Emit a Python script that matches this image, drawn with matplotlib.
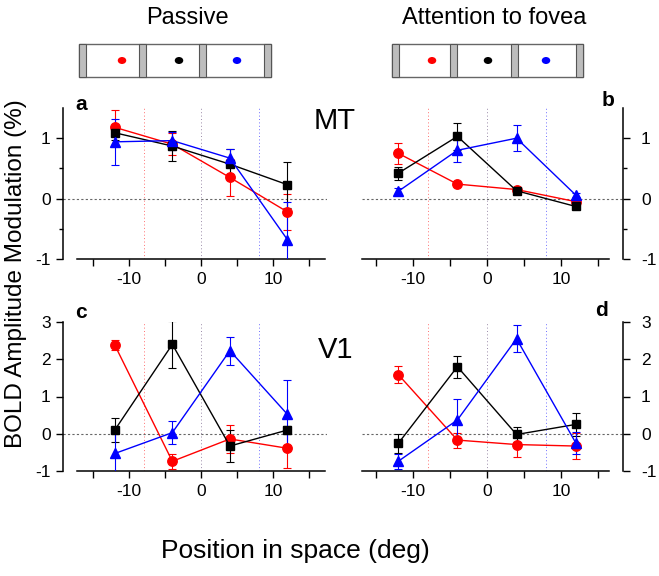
import numpy as np
import matplotlib
matplotlib.use("Agg")
import matplotlib.pyplot as plt
from matplotlib.patches import Rectangle, Ellipse

plt.rcParams['font.family'] = ['Liberation Sans', 'DejaVu Sans']

# stimulus positions (deg)
positions = [-12, -4, 4, 12]

# panel a - MT passive
a_red = [1.18, 0.90, 0.35, -0.22]
a_red_err = [0.29, 0.18, 0.30, 0.30]
a_black = [1.09, 0.87, 0.57, 0.23]
a_black_err = [0.12, 0.25, 0.25, 0.38]
a_blue = [0.94, 0.96, 0.67, -0.68]
a_blue_err = [0.38, 0.15, 0.15, 0.62]

# panel b - MT attention to fovea
b_red = [0.75, 0.24, 0.15, -0.05]
b_red_err = [0.17, 0.03, 0.05, 0.05]
b_black = [0.42, 1.03, 0.13, -0.13]
b_black_err = [0.11, 0.22, 0.05, 0.05]
b_blue = [0.12, 0.80, 1.00, 0.06]
b_blue_err = [0.06, 0.19, 0.22, 0.03]

# panel c - V1 passive
c_red = [2.38, -0.74, -0.14, -0.39]
c_red_err = [0.13, 0.20, 0.37, 0.52]
c_black = [0.10, 2.40, -0.33, 0.10]
c_black_err = [0.33, 0.63, 0.42, 0.10]
c_blue = [-0.53, 0.03, 2.23, 0.52]
c_blue_err = [0.55, 0.30, 0.38, 0.93]

# panel d - V1 attention to fovea
d_red = [1.59, -0.17, -0.29, -0.33]
d_red_err = [0.23, 0.20, 0.34, 0.36]
d_black = [-0.26, 1.80, -0.02, 0.25]
d_black_err = [0.25, 0.30, 0.20, 0.32]
d_blue = [-0.74, 0.37, 2.55, -0.24]
d_blue_err = [0.20, 0.55, 0.36, 0.30]

W, H = 659, 576
fig = plt.figure(figsize=(W / 100, H / 100), dpi=100)


def pix_axes(left, right, top, bottom):
    return fig.add_axes([left / W, (H - bottom) / H, (right - left) / W, (bottom - top) / H])


def draw_panel(ax, red, red_err, black, black_err, blue, blue_err, ylim, yticks, side, xlim, xbounds, minor=None):
    for xv, c in [(-8, '#ff7070'), (0, '#9a8aa8'), (8, '#7070ff')]:
        ax.axvline(xv, color=c, lw=0.7, ls=(0, (1, 2.5)), zorder=1)
    ax.axhline(0, color='#666666', lw=0.8, ls=(0, (2, 2)), zorder=1)

    series = [(red, red_err, '#ff0000', 'o', 6.8),
              (black, black_err, '#000000', 's', 6.0),
              (blue, blue_err, '#0000ff', '^', 7.5)]
    for vals, errs, col, mk, ms in series:
        ax.errorbar(positions, vals, yerr=errs, color=col, marker=mk, ms=ms, lw=1.0,
                    elinewidth=0.8, capsize=2.8, capthick=0.8, mec=col, zorder=3, clip_on=True)

    ax.set_xlim(*xlim)
    ax.set_ylim(*ylim)
    ax.set_xticks([-15, -10, -5, 0, 5, 10, 15])
    ax.set_xticklabels(['', '-10', '', '0', '', '10', ''])
    ax.set_yticks(yticks)
    ax.set_yticklabels([str(t) for t in yticks])
    if minor is not None:
        ax.set_yticks(minor, minor=True)
    ax.spines['top'].set_visible(False)
    ax.spines['bottom'].set_bounds(*xbounds)
    if side == 'left':
        ax.spines['right'].set_visible(False)
    else:
        ax.spines['left'].set_visible(False)
        ax.yaxis.tick_right()
    ax.tick_params(axis='both', direction='out', length=5, width=1, labelsize=12.5, pad=4)
    ax.tick_params(axis='y', which='minor', direction='out', length=3, width=1)
    for s in ax.spines.values():
        s.set_linewidth(1.1)
    ax.patch.set_alpha(0)


ax_a = pix_axes(63, 327, 108, 259)
draw_panel(ax_a, a_red, a_red_err, a_black, a_black_err, a_blue, a_blue_err,
           (-1, 1.5), [-1, 0, 1], 'left', (-19.2, 17.5), (-17.2, 17.2), minor=[-0.5, 0.5])

ax_b = pix_axes(362, 623, 108, 259)
draw_panel(ax_b, b_red, b_red_err, b_black, b_black_err, b_blue, b_blue_err,
           (-1, 1.5), [-1, 0, 1], 'right', (-16.9, 18.4), (-16.9, 16.5), minor=[-0.5, 0.5])
ax_b.tick_params(axis='y', pad=8)

ax_c = pix_axes(63, 327, 322, 471)
draw_panel(ax_c, c_red, c_red_err, c_black, c_black_err, c_blue, c_blue_err,
           (-1, 3), [-1, 0, 1, 2, 3], 'left', (-19.2, 17.5), (-17.2, 17.2))

ax_d = pix_axes(362, 623, 322, 471)
draw_panel(ax_d, d_red, d_red_err, d_black, d_black_err, d_blue, d_blue_err,
           (-1, 3), [-1, 0, 1, 2, 3], 'right', (-16.9, 18.4), (-16.9, 16.5))
ax_d.tick_params(axis='y', pad=8)

# overlay for texts and stimulus sketches, in pixel coordinates
ov = fig.add_axes([0, 0, 1, 1], zorder=-1)
ov.set_xlim(0, W)
ov.set_ylim(H, 0)
ov.axis('off')

ov.text(187, 18, 'Passive', fontsize=17, ha='center', va='center')
ov.text(494, 18, 'Attention to fovea', fontsize=17, ha='center', va='center')
ov.text(335, 121, 'MT', fontsize=21, ha='center', va='center')
ov.text(336, 350, 'V1', fontsize=21, ha='center', va='center')
ov.text(81, 104, 'a', fontsize=15, fontweight='bold', ha='center', va='center')
ov.text(608, 101, 'b', fontsize=15, fontweight='bold', ha='center', va='center')
ov.text(81, 313, 'c', fontsize=15, fontweight='bold', ha='center', va='center')
ov.text(602, 311, 'd', fontsize=15, fontweight='bold', ha='center', va='center')
ov.text(16, 274, 'BOLD Amplitude Modulation (%)', fontsize=17.5, rotation=90, ha='center', va='center')
ov.text(295, 551, 'Position in space (deg)', fontsize=19, ha='center', va='center')


def stim_box(x0, x1, y0, y1, bars, dots):
    ov.add_patch(Rectangle((x0, y0), x1 - x0, y1 - y0, fc='white', ec='#666666', lw=1.0))
    for bx in bars:
        ov.add_patch(Rectangle((bx, y0), 7, y1 - y0, fc='#bdbdbd', ec='#555555', lw=0.8))
    for dx, col in zip(dots, ['#ff0000', '#000000', '#0000ff']):
        ov.add_patch(Ellipse((dx, (y0 + y1) / 2), 8.5, 7, fc=col, ec='none'))


stim_box(79, 271, 44, 77, [79, 139, 199, 264], [122, 179, 237])
stim_box(392, 583, 44, 77, [392, 450, 511, 576], [432, 488, 546])

fig.savefig('out.png', dpi=100)
